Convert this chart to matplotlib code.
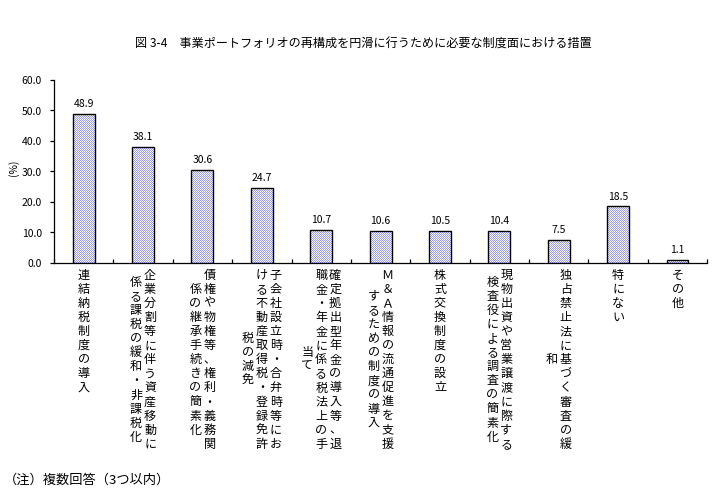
import numpy as np
import matplotlib
matplotlib.use("Agg")
import matplotlib.pyplot as plt
from matplotlib.transforms import blended_transform_factory

plt.rcParams['font.family'] = ['Noto Sans CJK JP', 'DejaVu Sans']

title = "図 3-4　事業ポートフォリオの再構成を円滑に行うために必要な制度面における措置"
note = "（注）複数回答（3つ以内）"
y_label = "(%)"

values = [48.9, 38.1, 30.6, 24.7, 10.7, 10.6, 10.5, 10.4, 7.5, 18.5, 1.1]
# each category label is vertical text, columns listed right to left
labels = [
    ["連結納税制度の導入"],
    ["企業分割等に伴う資産移動に", "係る課税の緩和・非課税化"],
    ["債権や物権等、権利・義務関", "係の継承手続きの簡素化"],
    ["子会社設立時・合弁時等にお", "ける不動産取得税・登録免許", "税の減免"],
    ["確定拠出型年金の導入等、退", "職金・年金に係る税法上の手", "当て"],
    ["Ｍ＆Ａ情報の流通促進を支援", "するための制度の導入"],
    ["株式交換制度の設立"],
    ["現物出資や営業譲渡に際する", "検査役による調査の簡素化"],
    ["独占禁止法に基づく審査の緩", "和"],
    ["特にない"],
    ["その他"],
]
yticks = [0, 10, 20, 30, 40, 50, 60]

PX = 72 / 100  # pixels -> points at 100 dpi
W, H = 721, 489

# +0.2 px so agg doesn't truncate the canvas to 488
fig = plt.figure(figsize=((W + 0.2) / 100, (H + 0.2) / 100), dpi=100)
ax = fig.add_axes([54 / W, 1 - 263 / H, (707 - 54) / W, (263 - 80) / H])
ax.set_facecolor('none')

x = np.arange(len(values))
bars = ax.bar(x, values, width=0.37, facecolor='none', edgecolor='black',
              linewidth=1.0, zorder=3)

# 1-pixel checker fill like the excel pattern, clipped to each bar
yy, xx = np.mgrid[0:H, 0:W]
tex = np.ones((H, W, 3))
tex[(xx + yy) % 2 == 0] = [0x99 / 255, 0x99 / 255, 1.0]
for b in bars:
    im = fig.figimage(tex, 0, 0, zorder=-1)
    im.set_clip_path(b)

# value labels
for xi, v in zip(x, values):
    ax.annotate(f"{v:.1f}", (xi, v), xytext=(0, 5 * PX), textcoords='offset points',
                ha='center', va='bottom', fontsize=7.5)

ax.set_xlim(-0.5, len(values) - 0.5)
ax.set_ylim(0, 60)
ax.set_yticks(yticks)
ax.set_yticklabels([f"{v:.1f}" for v in yticks])
ax.set_xticks(np.arange(-0.5, len(values), 1))
ax.set_xticklabels([])

for s in ['top', 'right']:
    ax.spines[s].set_visible(False)
for s in ['left', 'bottom']:
    ax.spines[s].set_linewidth(0.9)

ax.tick_params(axis='y', direction='out', length=4 * PX, width=0.9,
               pad=8 * PX, labelsize=7.5)
ax.tick_params(axis='x', direction='in', length=4 * PX, width=0.9)

# vertical category labels, drawn char by char under each bar
trans = blended_transform_factory(ax.transData, ax.transAxes)
top = -12      # px from axis line to centre of first char
pitch = 14.1   # vertical char pitch, px
colsp = 14     # column spacing, px
for xi, cols in zip(x, labels):
    n = max(len(c) for c in cols)
    for j, col in enumerate(cols):
        dx = ((len(cols) - 1) / 2 - j) * colsp
        y0 = top - (n - len(col)) / 2 * pitch
        for k, ch in enumerate(col):
            ax.annotate(ch, (xi, 0), xycoords=trans,
                        xytext=(dx * PX, (y0 - k * pitch) * PX),
                        textcoords='offset points', ha='center', va='center',
                        fontsize=8.7, annotation_clip=False)

fig.text(363 / W, 1 - 44 / H, title, ha='center', va='center', fontsize=8.7)
fig.text(14 / W, 1 - 168 / H, y_label, rotation=90, ha='center', va='center', fontsize=7.5)
fig.text(4 / W, 1 - 480 / H, note, ha='left', va='center', fontsize=9.5)

fig.savefig('out.png', dpi=100)
plt.close()
